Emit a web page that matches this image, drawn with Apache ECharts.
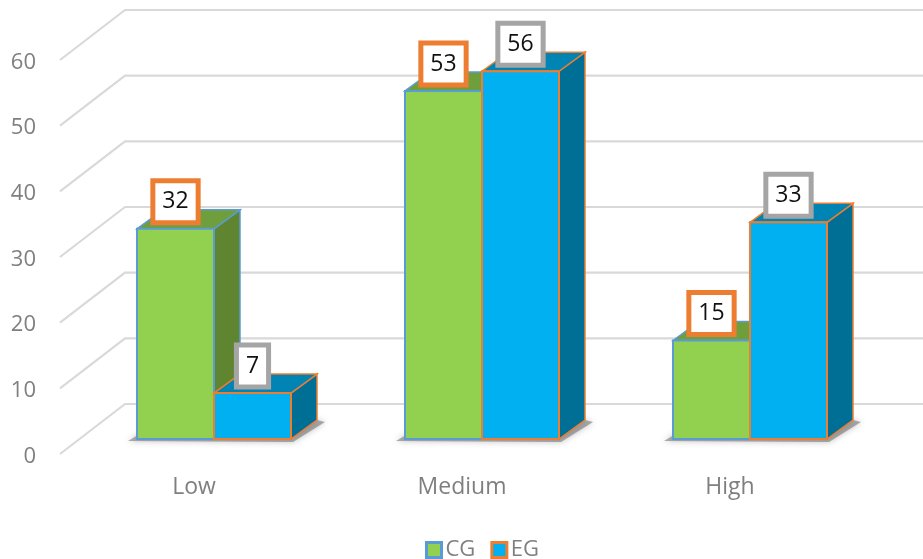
<!DOCTYPE html>
<html>
<head>
<meta charset="utf-8">
<style>html,body{margin:0;padding:0;background:#fff}#chart{width:923px;height:559px}</style>
<script src="https://cdn.jsdelivr.net/npm/echarts@6/dist/echarts.min.js"></script>
</head>
<body>
<div id="chart"></div>
<script>
const categories = ['Low', 'Medium', 'High'];
const seriesNames = ['CG', 'EG'];
const cgValues = [32, 53, 15];
const egValues = [7, 56, 33];
const valueTicks = [0, 10, 20, 30, 40, 50, 60];

const FONT = '"Open Sans", sans-serif';
const GRAY_TEXT = '#7F7F7F';

// Oblique projection of the 3D box: offsets are in screen pixels.
const WALL_DEPTH = [65, -50];
const BAR_PLANE = [20, -15];
const BAR_DEPTH = [26, -19];
const BAR_FRACTION = 0.2873;

const CG_STYLE = { front: '#92D050', top: '#6F9E3C', side: '#5F8530', edge: '#5B9BD5' };
const EG_STYLE = { front: '#00B0F0', top: '#0084B4', side: '#006F96', edge: '#ED7D31' };

const poly = (points, fill, stroke, lineWidth) => ({
  type: 'polygon',
  shape: { points },
  style: { fill, stroke, lineWidth, lineJoin: 'miter' }
});

function renderWall(params, api) {
  const p = api.coord([0, api.value(1)]);
  const x0 = p[0] - api.size([1, 0])[0] / 2;
  const backX = x0 + WALL_DEPTH[0];
  const backY = p[1] + WALL_DEPTH[1];
  return {
    type: 'polyline',
    shape: { points: [[x0, p[1]], [backX, backY], [backX + 804, backY]] },
    style: { fill: 'none', stroke: '#D9D9D9', lineWidth: 2.2 }
  };
}

function renderFloorShadow(params, api) {
  const p = api.coord([api.value(0), 0]);
  const w = api.size([1, 0])[0] * BAR_FRACTION;
  const cx = p[0] + BAR_PLANE[0];
  const y = p[1] + BAR_PLANE[1];
  return {
    type: 'polygon',
    shape: { points: [
      [cx - w - 9, y + 2], [cx + w + 2, y + 3],
      [cx + w + BAR_DEPTH[0] + 8, y + BAR_DEPTH[1] + 2],
      [cx + w + BAR_DEPTH[0], y + BAR_DEPTH[1]],
      [cx - w + BAR_DEPTH[0], y + BAR_DEPTH[1]]
    ] },
    style: { fill: 'rgba(120,120,120,0.6)', shadowBlur: 6, shadowColor: 'rgba(100,100,100,0.65)' }
  };
}

function barRenderer(colors, sign) {
  return function (params, api) {
    const top = api.coord([api.value(0), api.value(1)]);
    const base = api.coord([api.value(0), 0]);
    const w = api.size([1, 0])[0] * BAR_FRACTION;
    const xc = top[0] + BAR_PLANE[0];
    const x0 = sign < 0 ? xc - w : xc;
    const x1 = x0 + w;
    const yt = top[1] + BAR_PLANE[1];
    const yb = base[1] + BAR_PLANE[1];
    const [dx, dy] = BAR_DEPTH;
    return {
      type: 'group',
      children: [
        poly([[x1, yt], [x1 + dx, yt + dy], [x1 + dx, yb + dy], [x1, yb]], colors.side, colors.edge, 1.5),
        poly([[x0, yt], [x0 + dx, yt + dy], [x1 + dx, yt + dy], [x1, yt]], colors.top, colors.edge, 1.5),
        poly([[x0, yt], [x1, yt], [x1, yb], [x0, yb]], colors.front, colors.edge, 2)
      ]
    };
  };
}

function labelRenderer(borderColor, sign) {
  return function (params, api) {
    const top = api.coord([api.value(0), api.value(1)]);
    const w = api.size([1, 0])[0] * BAR_FRACTION;
    return {
      type: 'text',
      x: top[0] + BAR_PLANE[0] + sign * w / 2,
      y: top[1] + BAR_PLANE[1] - 27,
      style: {
        text: String(api.value(1)),
        fill: '#111111',
        font: '23px ' + FONT,
        align: 'center',
        verticalAlign: 'middle',
        backgroundColor: '#FFFFFF',
        borderColor,
        borderWidth: 5,
        padding: [7, 7, 7, 7]
      }
    };
  };
}

const toPairs = values => values.map((v, i) => [i, v]);

const barSeries = (name, values, colors, sign, z) => ({
  name,
  type: 'custom',
  coordinateSystem: 'cartesian2d',
  z,
  itemStyle: { color: colors.front, borderColor: colors.edge, borderWidth: 2 },
  renderItem: barRenderer(colors, sign),
  encode: { x: 0, y: 1 },
  data: toPairs(values)
});

const labelSeries = (name, values, border, sign) => ({
  name,
  type: 'custom',
  coordinateSystem: 'cartesian2d',
  z: 6,
  renderItem: labelRenderer(border, sign),
  encode: { x: 0, y: 1 },
  data: toPairs(values)
});

const chart = echarts.init(document.getElementById('chart'));
chart.setOption({
  animation: false,
  backgroundColor: '#FFFFFF',
  grid: { left: 60, top: 60, width: 804, height: 394 },
  legend: {
    data: [
      { name: seriesNames[0], itemStyle: { color: CG_STYLE.front, borderColor: CG_STYLE.edge, borderWidth: 3 } },
      { name: seriesNames[1], itemStyle: { color: EG_STYLE.front, borderColor: EG_STYLE.edge, borderWidth: 3 } }
    ],
    left: 420,
    top: 534,
    icon: 'rect',
    itemWidth: 15,
    itemHeight: 15,
    itemGap: 15,
    textStyle: { color: GRAY_TEXT, fontFamily: FONT, fontSize: 22, padding: [0, 0, 0, -1] }
  },
  xAxis: {
    type: 'category',
    data: categories,
    axisLine: { show: false },
    axisTick: { show: false },
    axisLabel: { color: GRAY_TEXT, fontFamily: FONT, fontSize: 23, margin: 22 }
  },
  yAxis: {
    type: 'value',
    min: 0,
    max: 60,
    interval: 10,
    axisLine: { show: false },
    axisTick: { show: false },
    splitLine: { show: false },
    axisLabel: {
      margin: 24,
      formatter: '{v|{value}}',
      rich: { v: { color: GRAY_TEXT, fontFamily: FONT, fontSize: 22, padding: [5, 0, 0, 0] } }
    }
  },
  series: [
    {
      name: 'wall',
      type: 'custom',
      coordinateSystem: 'cartesian2d',
      z: 1,
      renderItem: renderWall,
      encode: { x: 0, y: 1 },
      data: valueTicks.map(t => [0, t]),
      silent: true
    },
    {
      name: 'floor',
      type: 'custom',
      coordinateSystem: 'cartesian2d',
      z: 2,
      renderItem: renderFloorShadow,
      encode: { x: 0, y: 1 },
      data: categories.map((c, i) => [i, 0]),
      silent: true
    },
    barSeries(seriesNames[0], cgValues, CG_STYLE, -1, 3),
    barSeries(seriesNames[1], egValues, EG_STYLE, 1, 4),
    labelSeries('CG value', cgValues, '#ED7D31', -1),
    labelSeries('EG value', egValues, '#A5A5A5', 1)
  ]
});
</script>
</body>
</html>
